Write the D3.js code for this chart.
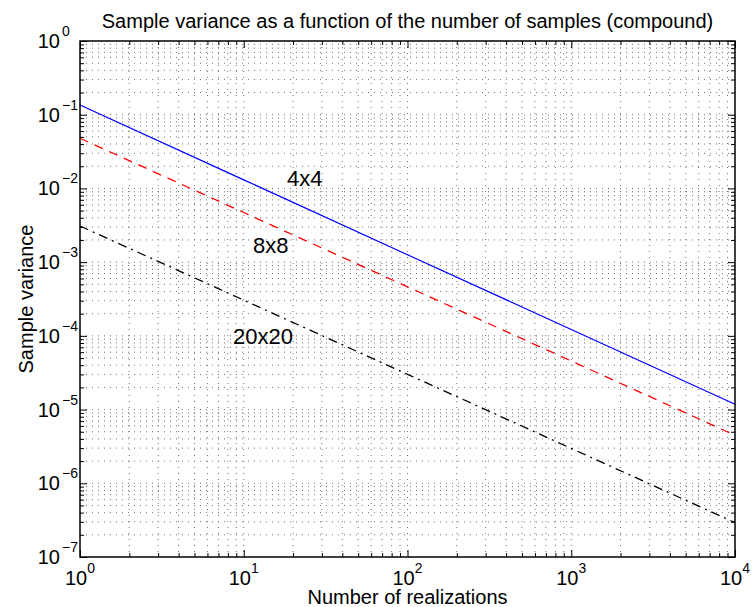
<!DOCTYPE html>
<html>
<head>
<meta charset="utf-8">
<script src="https://cdn.jsdelivr.net/npm/d3@7"></script>
<style>
  body { margin: 0; background: #fff; }
  text { font-family: "Liberation Sans", Arial, Helvetica, sans-serif; fill: #000; }
</style>
</head>
<body>
<div id="chart"></div>
<script>
// values (sample variance vs number of realizations)
const realizations = [1, 10, 100, 1000, 10000];
const var4x4 = [0.1355, 0.0131, 1.26e-3, 1.22e-4, 1.18e-5];
const var8x8 = [0.0479, 4.71e-3, 4.63e-4, 4.56e-5, 4.48e-6];
const var20x20 = [3.09e-3, 3.05e-4, 3.01e-5, 2.97e-6, 2.93e-7];
const seriesNames = ["4x4", "8x8", "20x20"];
const xDecades = [0, 1, 2, 3, 4];
const yDecades = [-7, -6, -5, -4, -3, -2, -1, 0];

const margin = {top: 41, right: 17, bottom: 50, left: 80},
	width = 752 - margin.left - margin.right,
	height = 607 - margin.top - margin.bottom;

const svg = d3.select("#chart")
	.append("svg")
	.attr("width", width + margin.left + margin.right)
	.attr("height", height + margin.top + margin.bottom);

svg.append("rect")
	.attr("width", 752).attr("height", 607).attr("fill", "#fff");

const g = svg.append("g")
	.attr("transform", "translate(" + margin.left + "," + margin.top + ")");

const x = d3.scaleLog().domain([1, 1e4]).range([0, width]);
const y = d3.scaleLog().domain([1e-7, 1]).range([height, 0]);

const xMajor = xDecades.map(e => Math.pow(10, e));
const yMajor = yDecades.map(e => Math.pow(10, e));
const minorOf = (majors) => {
	let out = [];
	majors.slice(0, -1).forEach(d => { for (let k = 2; k <= 9; k++) out.push(k * d); });
	return out;
};
const xMinor = minorOf(xMajor);
const yMinor = minorOf(yMajor);

// dotted grid, major + minor
const grid = g.append("g").attr("class", "grid")
	.attr("stroke", "#000").attr("stroke-width", 1)
	.attr("stroke-dasharray", "1,5").attr("opacity", 0.55);

grid.selectAll(".gx")
	.data(xMajor.concat(xMinor).filter(v => v > 1 && v < 1e4))
	.enter().append("line")
	.attr("x1", d => x(d)).attr("x2", d => x(d))
	.attr("y1", 0).attr("y2", height);

grid.selectAll(".gy")
	.data(yMajor.concat(yMinor).filter(v => v > 1e-7 && v < 1))
	.enter().append("line")
	.attr("y1", d => y(d)).attr("y2", d => y(d))
	.attr("x1", 0).attr("x2", width);

// lines
const series = [
	{name: seriesNames[0], values: var4x4, color: "#0000ff", dash: null},
	{name: seriesNames[1], values: var8x8, color: "#ff0000", dash: "9,7"},
	{name: seriesNames[2], values: var20x20, color: "#000000", dash: "9,5,2,5"}
];

const line = d3.line()
	.x((d, i) => x(realizations[i]))
	.y(d => y(d));

g.selectAll(".series")
	.data(series)
	.enter().append("path")
	.attr("class", "series")
	.attr("d", d => line(d.values))
	.attr("fill", "none")
	.attr("stroke", d => d.color)
	.attr("stroke-width", 1.3)
	.attr("stroke-dasharray", d => d.dash);

// curve labels, placed in data coordinates
const labelAt = [[18.4, 0.0108], [11.4, 1.33e-3], [8.6, 7.74e-5]];
g.selectAll(".curveLabel")
	.data(series)
	.enter().append("text")
	.attr("class", "curveLabel")
	.attr("x", (d, i) => x(labelAt[i][0]))
	.attr("y", (d, i) => y(labelAt[i][1]))
	.style("font-size", "22px")
	.text(d => d.name);

// ticks on all four sides, pointing inward
const axisSet = (axisFn, vals, size, tr) => {
	g.append("g")
		.attr("transform", tr)
		.call(axisFn.tickValues(vals).tickSize(-size).tickSizeOuter(0).tickFormat(""))
		.call(a => a.select(".domain").remove())
		.selectAll("line").attr("stroke", "#000").attr("stroke-width", 1);
};
axisSet(d3.axisBottom(x), xMajor, 7, "translate(0," + height + ")");
axisSet(d3.axisBottom(x), xMinor, 4, "translate(0," + height + ")");
axisSet(d3.axisTop(x), xMajor, 7, "translate(0,0)");
axisSet(d3.axisTop(x), xMinor, 4, "translate(0,0)");
axisSet(d3.axisLeft(y), yMajor, 7, "translate(0,0)");
axisSet(d3.axisLeft(y), yMinor, 4, "translate(0,0)");
axisSet(d3.axisRight(y), yMajor, 7, "translate(" + width + ",0)");
axisSet(d3.axisRight(y), yMinor, 4, "translate(" + width + ",0)");

g.append("rect")
	.attr("width", width).attr("height", height)
	.attr("fill", "none").attr("stroke", "#000").attr("stroke-width", 1.5);

const expText = e => (e < 0 ? "\u2212" + (-e) : String(e));

// x tick labels 10^n
const xl = g.selectAll(".xlab")
	.data(xDecades)
	.enter().append("text")
	.attr("class", "xlab")
	.attr("x", d => x(Math.pow(10, d)))
	.attr("y", height + 28)
	.attr("text-anchor", "middle")
	.style("font-size", "20px");
xl.append("tspan").text("10");
xl.append("tspan").attr("dy", -12).style("font-size", "14px").text(d => expText(d));

// y tick labels 10^n
g.selectAll(".ylab")
	.data(yDecades)
	.enter().append("text")
	.attr("class", "ylab")
	.attr("x", -20)
	.attr("y", d => y(Math.pow(10, d)) + 7)
	.attr("text-anchor", "end")
	.style("font-size", "20px")
	.text("10");
g.selectAll(".yexp")
	.data(yDecades)
	.enter().append("text")
	.attr("class", "yexp")
	.attr("x", -18)
	.attr("y", d => y(Math.pow(10, d)) - 5)
	.style("font-size", "14px")
	.text(d => expText(d));

// titles
svg.append("text")
	.attr("x", margin.left + width / 2)
	.attr("y", 28)
	.attr("text-anchor", "middle")
	.style("font-size", "20px")
	.text("Sample variance as a function of the number of samples (compound)");

svg.append("text")
	.attr("x", margin.left + width / 2)
	.attr("y", 604)
	.attr("text-anchor", "middle")
	.style("font-size", "20px")
	.text("Number of realizations");

svg.append("text")
	.attr("transform", "rotate(-90)")
	.attr("x", -(margin.top + height / 2))
	.attr("y", 33)
	.attr("text-anchor", "middle")
	.style("font-size", "20px")
	.text("Sample variance");
</script>
</body>
</html>
